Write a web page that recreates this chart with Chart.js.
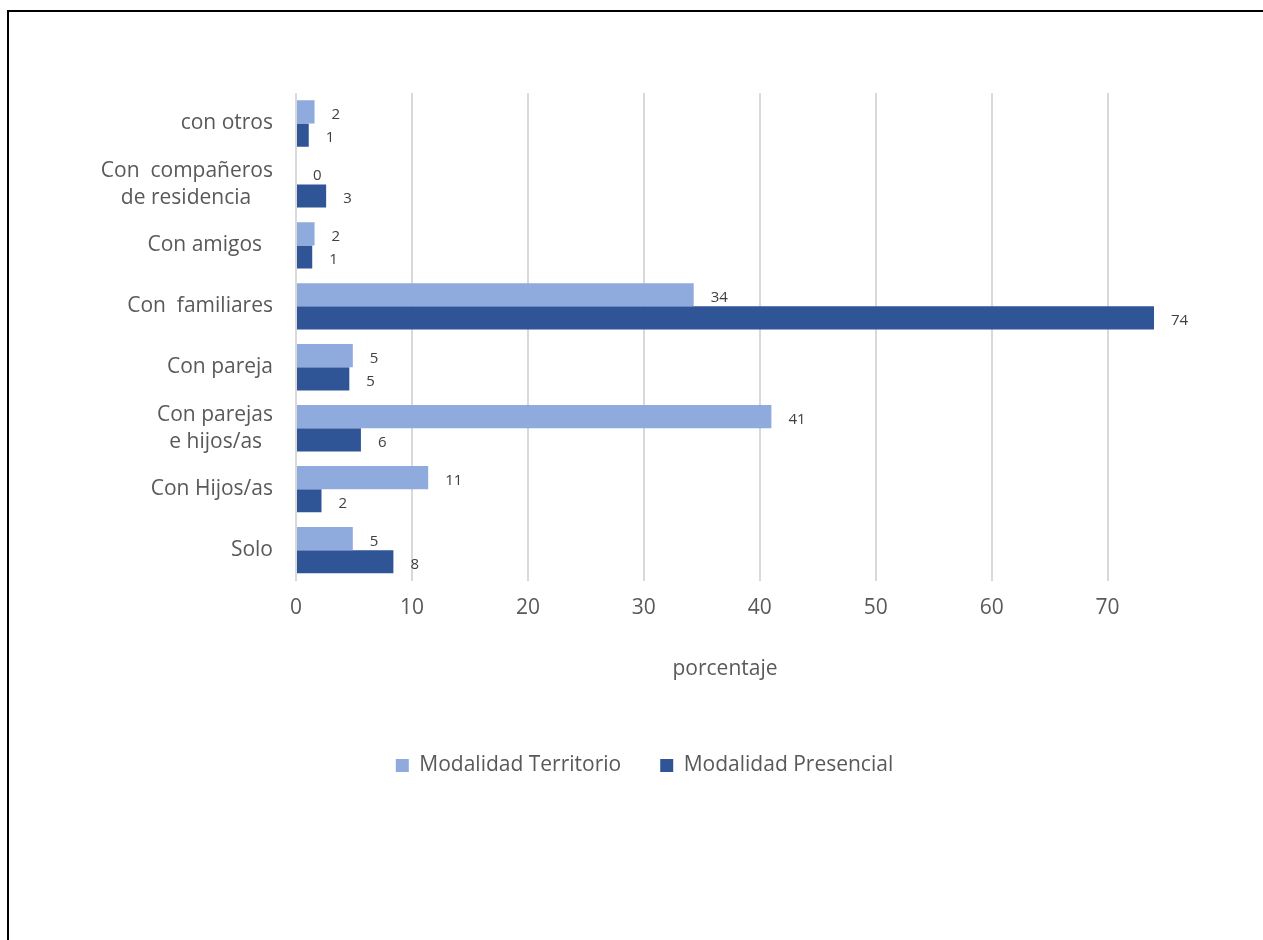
<!DOCTYPE html>
<html>
<head>
<meta charset="utf-8">
<script src="https://cdn.jsdelivr.net/npm/chart.js@4.4.1/dist/chart.umd.min.js"></script>
<style>
   html, body { margin: 0; padding: 0; background: #fff; overflow: hidden; }
   #frame {
      position: absolute; left: 7px; top: 10px; width: 1400px; height: 1100px;
      border-left: 2px solid #000; border-top: 2px solid #000;
   }
   #wrap { position: absolute; left: 0; top: 0; width: 1263px; height: 940px; }
</style>
</head>
<body>
<div id="frame"></div>
<div id="wrap"><canvas id="chart"></canvas></div>
<script>
// Categories, top to bottom
const categories = [
   "con otros",
   ["Con  compañeros", "de residencia\u00a0\u00a0\u00a0\u00a0"],
   "Con amigos\u00a0\u00a0",
   "Con  familiares",
   "Con pareja",
   ["Con parejas", "e hijos/as\u00a0\u00a0"],
   "Con Hijos/as",
   "Solo"
];

// Series values (percent)
const territorio = [1.6, 0, 1.6, 34.3, 4.9, 41.0, 11.4, 4.9];
const presencial = [1.1, 2.6, 1.4, 74.0, 4.6, 5.6, 2.2, 8.4];

// Axis ticks
const xTicks = [0, 10, 20, 30, 40, 50, 60, 70];
const xMax = 74;

const textColor = "#595959";
const fontFamily = "'Open Sans', sans-serif";

// Data labels to the right of each bar
const barLabels = {
   id: "barLabels",
   afterDatasetsDraw(chart) {
      const ctx = chart.ctx;
      ctx.save();
      ctx.font = `15px ${fontFamily}`;
      ctx.fillStyle = "#404040";
      ctx.textAlign = "left";
      ctx.textBaseline = "middle";
      chart.data.datasets.forEach((ds, i) => {
         chart.getDatasetMeta(i).data.forEach((bar, j) => {
            ctx.fillText(String(Math.round(ds.data[j])), bar.x + 17, bar.y + 3);
         });
      });
      ctx.restore();
   }
};

new Chart(document.getElementById("chart"), {
   type: "bar",
   data: {
      labels: categories,
      datasets: [
         {
            label: "Modalidad Territorio",
            data: territorio,
            backgroundColor: "#8FAADC",
            borderWidth: 0
         },
         {
            label: "Modalidad Presencial",
            data: presencial,
            backgroundColor: "#2F5597",
            borderWidth: 0
         }
      ]
   },
   plugins: [barLabels],
   options: {
      indexAxis: "y",
      responsive: true,
      maintainAspectRatio: false,
      animation: false,
      datasets: {
         bar: { categoryPercentage: 0.76, barPercentage: 1.0 }
      },
      layout: {
         padding: { left: 26, right: 0, top: 93, bottom: 154 }
      },
      plugins: {
         legend: {
            position: "bottom",
            labels: {
               boxWidth: 13,
               boxHeight: 13,
               padding: 39,
               color: textColor,
               font: { family: fontFamily, size: 21 }
            }
         },
         tooltip: { enabled: false }
      },
      scales: {
         x: {
            min: 0,
            max: xMax,
            afterBuildTicks: scale => {
               scale.ticks = xTicks.map(v => ({ value: v }));
            },
            grid: {
               color: "#d9d9d9",
               lineWidth: 2,
               drawTicks: false
            },
            border: { display: false },
            ticks: {
               padding: 15,
               color: textColor,
               font: { family: fontFamily, size: 21 },
               maxRotation: 0
            },
            title: {
               display: true,
               text: "porcentaje",
               color: textColor,
               font: { family: fontFamily, size: 21 },
               padding: { top: 21, bottom: 34 }
            }
         },
         y: {
            afterFit: scale => { scale.width = 270; },
            grid: { display: false, drawTicks: false },
            border: { display: false },
            ticks: {
               padding: 23,
               color: textColor,
               font: { family: fontFamily, size: 21, lineHeight: 1.29 }
            }
         },
         // empty right-hand margin so the plot stops at the longest bar
         yRight: {
            type: "category",
            position: "right",
            afterFit: scale => { scale.width = 109; },
            grid: { display: false, drawTicks: false },
            border: { display: false },
            ticks: { display: false }
         }
      }
   }
});
</script>
</body>
</html>
